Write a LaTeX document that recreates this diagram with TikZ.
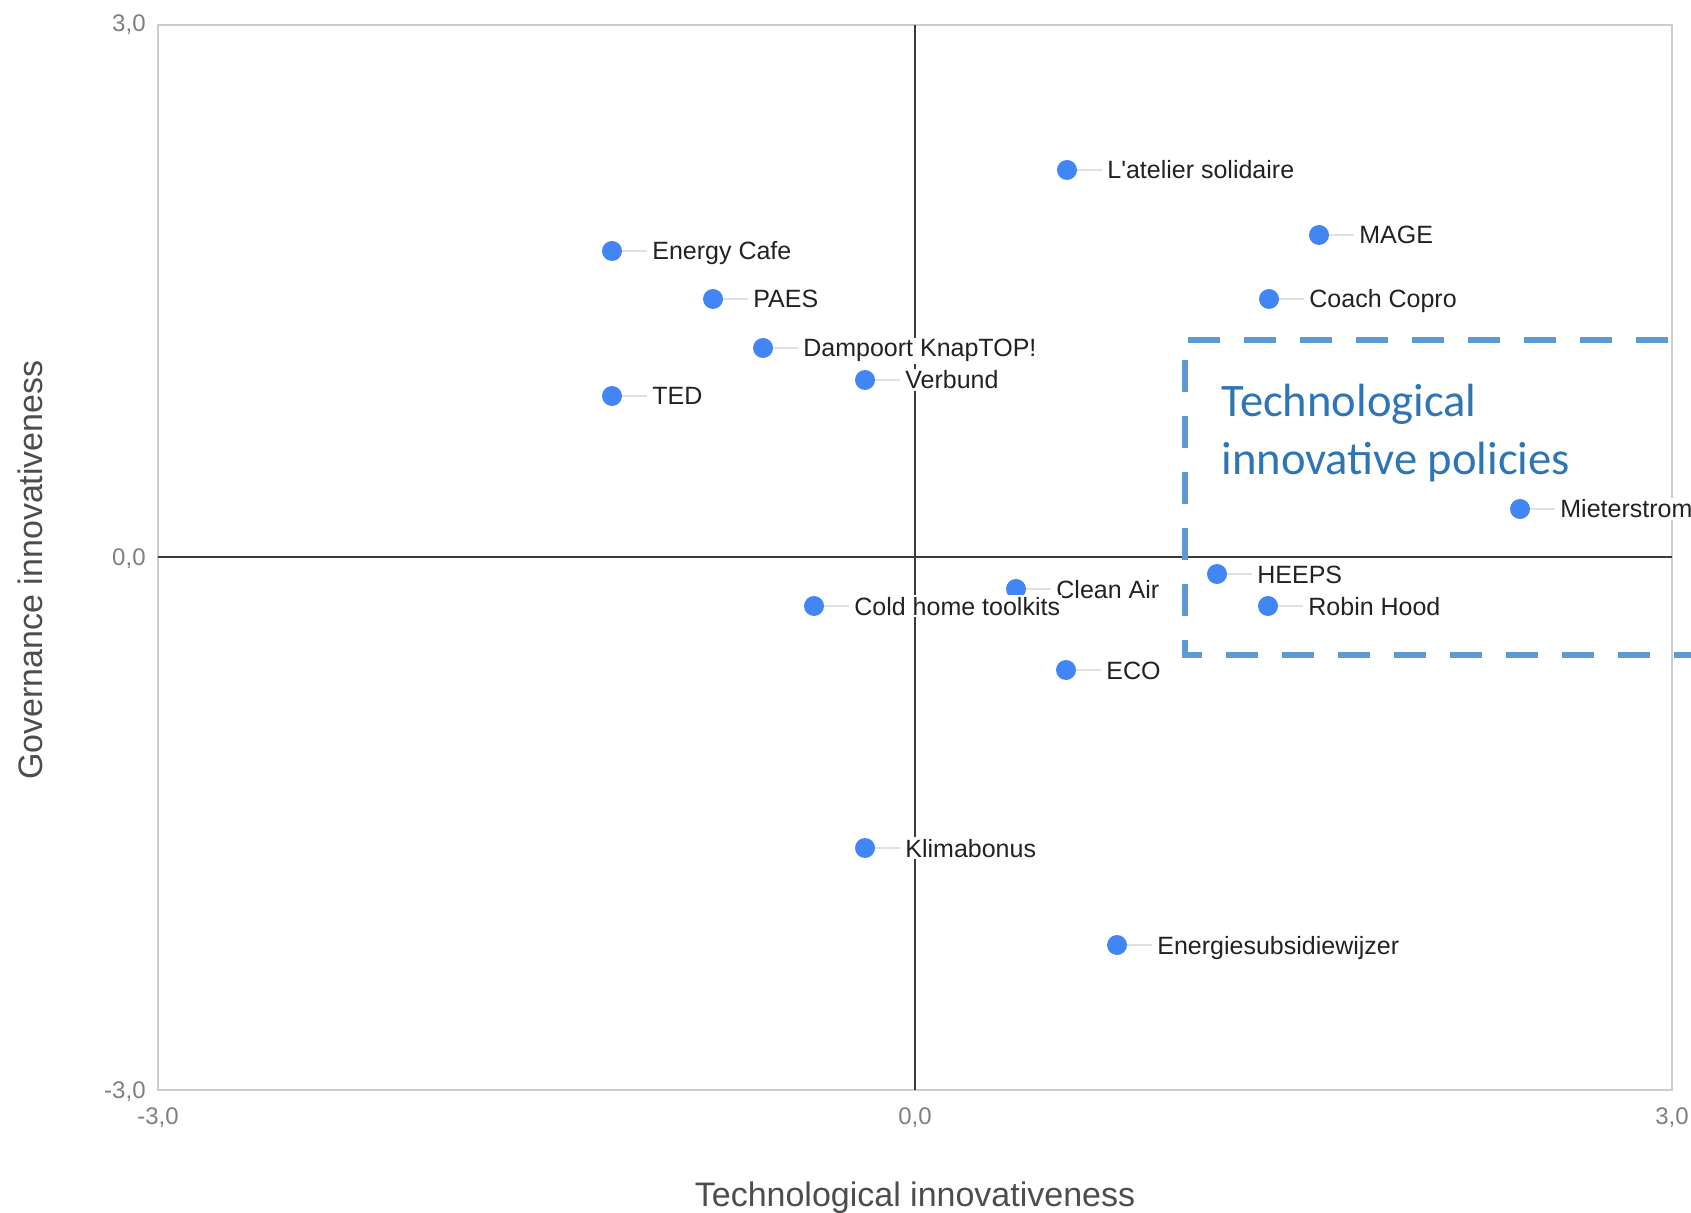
\documentclass[tikz,border=0pt]{standalone}
\usepackage{fontspec}
\setmainfont{Liberation Sans}[Ligatures=TeXOff]
\newfontfamily\calfont{Carlito}
\definecolor{dotblue}{HTML}{4285F4}
\definecolor{conngray}{HTML}{E0E0E0}
\definecolor{lbltext}{HTML}{222222}
\definecolor{ticktext}{HTML}{7F7F7F}
\definecolor{titletext}{HTML}{4D4D4D}
\definecolor{framegray}{HTML}{CCCCCC}
\definecolor{axisdark}{HTML}{3A3A3A}
\definecolor{boxblue}{HTML}{5B9BD5}
\definecolor{calblue}{HTML}{2E75B6}
\newcommand\plotdot[3]{\node[dot] (d#1) at (#2,#3) {};}
\newcommand\plotlbl[4]{\node[lbl] (l#1) at ({#2+38},{#3+9}) {#4};}
\begin{document}
\begin{tikzpicture}[x=0.5pt,y=-0.5pt,
  dot/.style={circle,fill=dotblue,draw=none,minimum size=10pt,inner sep=0pt},
  lbl/.style={anchor=base west,inner xsep=1pt,inner ysep=1pt,fill=white,text=lbltext,font=\fontsize{12.5}{14}\selectfont},
  conn/.style={draw=conngray,line width=1pt,shorten >=1.5pt},
  framebox/.style={draw=framegray,line width=1pt},
  zeroax/.style={draw=axisdark,line width=1pt},
  tick/.style={inner sep=0pt,text=ticktext,font=\fontsize{12}{14}\selectfont},
  axtitle/.style={inner sep=0pt,text=titletext,font=\fontsize{17}{20}\selectfont},
  dashbox/.style={draw=boxblue,line width=3pt,dash pattern=on 16pt off 12pt},
  callout/.style={anchor=base west,inner sep=0pt,text=calblue,font=\calfont\fontsize{23.3}{28}\selectfont}]
\useasboundingbox (0,0) rectangle (1691,1213);
\clip (0,0) rectangle (1691,1213);
% plot frame and zero axes
\draw[framebox] (158,25) rectangle (1672,1090);
\draw[zeroax] (915,25) -- (915,1090);
\draw[zeroax] (158,557.5) -- (1672,557.5);
% tick labels
\node[tick,anchor=base east] (yt3) at (146,31.5) {3,0};
\node[tick,anchor=base east] (yt0) at (146,566) {0,0};
\node[tick,anchor=base east] (ytm) at (146,1098.5) {-3,0};
\node[tick,anchor=base] (xtm) at (158,1124.5) {-3,0};
\node[tick,anchor=base] (xt0) at (915,1124.5) {0,0};
\node[tick,anchor=base] (xt3) at (1672,1124.5) {3,0};
% axis titles
\node[axtitle,anchor=base] (xtitle) at (915,1206) {Technological innovativeness};
\node[axtitle,anchor=base,rotate=90] (ytitle) at (42,570) {Governance innovativeness};
% data points
\plotdot{a}{1067}{170}
\plotdot{b}{1319}{235}
\plotdot{c}{1269}{299}
\plotdot{d}{612}{251}
\plotdot{e}{713}{299}
\plotdot{f}{763}{348}
\plotdot{g}{865}{380}
\plotdot{h}{612}{396}
\plotdot{i}{1520}{509}
\plotdot{j}{1217}{574}
\plotdot{k}{1268}{606}
\plotdot{m}{1016}{589}
\plotdot{n}{814}{606}
\plotdot{o}{1066}{670}
\plotdot{p}{865}{848}
\plotdot{q}{1117}{945}
% labels
\plotlbl{a}{1067}{170}{L'atelier solidaire}
\plotlbl{b}{1319}{235}{MAGE}
\plotlbl{c}{1269}{299}{Coach Copro}
\plotlbl{d}{612}{251}{Energy Cafe}
\plotlbl{e}{713}{299}{PAES}
\plotlbl{f}{763}{348}{Dampoort KnapTOP!}
\plotlbl{g}{865}{380}{Verbund}
\plotlbl{h}{612}{396}{TED}
\plotlbl{i}{1520}{509}{Mieterstrom}
\plotlbl{j}{1217}{574}{HEEPS}
\plotlbl{k}{1268}{606}{Robin Hood}
\plotlbl{m}{1016}{589}{Clean Air}
\plotlbl{n}{814}{606}{Cold home toolkits}
\plotlbl{o}{1066}{670}{ECO}
\plotlbl{p}{865}{848}{Klimabonus}
\plotlbl{q}{1117}{945}{Energiesubsidiewijzer}
% connectors
\foreach \s in {a,b,c,d,e,f,g,h,i,j,k,m,n,o,p,q}
  \draw[conn] (d\s.east) -- (d\s.east -| l\s.west);
% dashed highlight box
\coordinate (bxtl) at (1188,340);
\coordinate (bxtr) at (1720,340);
\coordinate (bxl) at (1185,360);
\coordinate (bxbl) at (1185,655);
\coordinate (bxbr) at (1720,655);
\draw[dashbox] (bxtl) -- (bxtr);
\draw[dashbox] (bxl) -- (bxbl) -- (bxbr);
\node[callout] (cal1) at (1221,417) {Technological};
\node[callout] (cal2) at (1221,474.5) {innovative policies};
\end{tikzpicture}
\end{document}
